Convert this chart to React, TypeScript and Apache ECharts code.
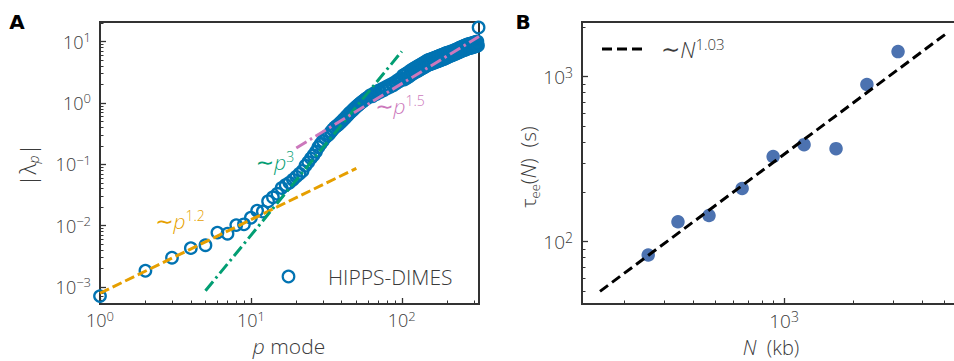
import React, { useEffect, useRef } from "react";
import * as echarts from "echarts";

// ---------- Panel A data ----------
const pModes = [
  1, 2, 3, 4, 5, 6, 7, 8, 9, 10, 11, 12, 13, 14, 15, 16, 17, 18, 19, 20,
  21, 22, 23, 24, 25, 26, 27, 28, 29, 30, 31, 32, 33, 34, 35, 36, 37, 38, 39, 40,
  41, 42, 43, 44, 45, 46, 47, 48, 49, 50, 51, 52, 53, 54, 55, 56, 57, 58, 59, 60,
  62, 64, 66, 68, 70, 72, 74, 76, 78, 80, 82, 84, 86, 88, 90, 92, 94, 96, 98, 100,
  102, 104, 106, 108, 110, 112, 114, 116, 118, 120, 122, 124, 126, 128, 130, 132, 134, 136, 138, 140,
  142, 144, 146, 148, 150, 152, 154, 156, 158, 160, 162, 164, 166, 168, 170, 172, 174, 176, 178, 180,
  182, 184, 186, 188, 190, 192, 194, 196, 198, 200,
  203, 206, 209, 212, 215, 218, 221, 224, 227, 230, 233, 236, 239, 242, 245, 248, 251, 254, 257, 260,
  263, 266, 269, 272, 275, 278, 281, 284, 287, 290, 293, 296, 299, 302, 305, 308, 311, 314, 317, 320,
  323,
];
const lambdaAbs = [
  7.1e-4, 1.84e-3, 3.0e-3, 4.3e-3, 4.8e-3, 7.7e-3, 7.4e-3, 1.02e-2, 1.05e-2, 1.35e-2,
  1.75e-2, 1.7e-2, 2.5e-2, 2.9e-2, 3.3e-2, 4.1e-2, 4.6e-2, 5.0e-2, 5.6e-2, 6.3e-2,
  7.0e-2, 7.8e-2, 9.5e-2, 0.108, 0.125, 0.14, 0.16, 0.19, 0.215, 0.24,
  0.27, 0.29, 0.31, 0.34, 0.37, 0.4, 0.42, 0.44, 0.47, 0.5,
  0.532, 0.565, 0.601, 0.639, 0.68, 0.714, 0.75, 0.788, 0.828, 0.87,
  0.905, 0.942, 0.98, 1.02, 1.06, 1.09, 1.13, 1.17, 1.2, 1.24,
  1.34, 1.29, 1.46, 1.4, 1.58, 1.51, 1.69, 1.61, 1.81, 1.73,
  1.93, 1.84, 2.05, 1.95, 2.18, 2.09, 2.34, 2.24, 2.51, 2.4,
  2.81, 2.41, 2.98, 2.56, 3.15, 2.71, 3.35, 2.88, 3.55, 3.05,
  3.73, 3.19, 3.9, 3.33, 4.07, 3.48, 4.26, 3.63, 4.44, 3.78,
  4.62, 3.94, 4.82, 4.1, 5.01, 4.23, 5.12, 4.33, 5.24, 4.43,
  5.36, 4.53, 5.48, 4.63, 5.61, 4.74, 5.74, 4.85, 5.88, 4.95,
  6.0, 5.06, 6.13, 5.17, 6.26, 5.28, 6.39, 5.39, 6.53, 5.51,
  6.63, 5.72, 6.81, 5.89, 7.01, 6.05, 7.2, 6.23, 7.41, 6.4,
  7.62, 6.59, 7.84, 6.77, 8.07, 6.96, 8.29, 7.15, 8.48, 7.3,
  8.67, 7.47, 8.87, 7.65, 9.07, 7.78, 9.2, 7.89, 9.33, 8.0,
  9.46, 8.11, 9.59, 8.23, 9.74, 8.37, 9.9, 8.51, 10.1, 8.65,
  17,
];
const fitP12 = [[1, 7.9e-4], [50, 0.086]];
const fitP3 = [[5, 8.67e-4], [100, 6.94]];
const fitP15 = [[20, 0.185], [325, 12.1]];
const aXTicks = [1, 10, 100];
const aXMinor = [2, 3, 4, 5, 6, 7, 8, 9, 20, 30, 40, 50, 60, 70, 80, 90, 200, 300];
const aYTicks = [1e-3, 1e-2, 1e-1, 1, 10];
const aYMinor = [
  6e-4, 7e-4, 8e-4, 9e-4,
  2e-3, 3e-3, 4e-3, 5e-3, 6e-3, 7e-3, 8e-3, 9e-3,
  2e-2, 3e-2, 4e-2, 5e-2, 6e-2, 7e-2, 8e-2, 9e-2,
  0.2, 0.3, 0.4, 0.5, 0.6, 0.7, 0.8, 0.9,
  2, 3, 4, 5, 6, 7, 8, 9, 20,
];

// ---------- Panel B data ----------
const genomeN = [255, 344, 470, 656, 896, 1223, 1687, 2301, 3148];
const tauEE = [83, 132, 144, 210, 328, 387, 366, 896, 1419];
const fitN103 = [[157, 50], [5050, 1800]];
const bXTicks = [1000];
const bXMinor = [200, 300, 400, 500, 600, 700, 800, 900, 2000, 3000, 4000, 5000];
const bYTicks = [100, 1000];
const bYMinor = [50, 60, 70, 80, 90, 200, 300, 400, 500, 600, 700, 800, 900, 2000];

const FONT = '"Open Sans", "DejaVu Sans", sans-serif';
const MATH = '"DejaVu Sans", sans-serif';
const TXT = "#3a3a3a";
const AX = "#333333";

function powLabel(v: number) {
  const e = Math.round(Math.log10(v));
  const s = e < 0 ? "\u2212" + -e : String(e);
  return `{b|10}{s|${s}}`;
}
function tickRich(size: number) {
  return {
    b: { fontSize: size, fontFamily: FONT, color: TXT, lineHeight: size + 4, fontWeight: 300 },
    s: {
      fontSize: Math.round(size * 0.72), fontFamily: FONT, color: TXT,
      lineHeight: Math.round(size * 0.55), verticalAlign: "top", fontWeight: 300,
    },
  };
}
function mainAxis(grid: number, min: number, max: number, ticks: number[], size: number, pos: string) {
  return {
    type: "log", logBase: 10, gridIndex: grid, min, max, position: pos,
    axisLine: { show: false },
    splitLine: { show: false },
    axisTick: { show: true, inside: true, length: 6, customValues: ticks, lineStyle: { color: AX, width: 1.3 } },
    axisLabel: {
      show: true, customValues: ticks, formatter: powLabel, rich: tickRich(size),
      margin: pos === "bottom" ? 5 : 9, fontFamily: FONT, color: TXT,
    },
  };
}
function minorAxis(grid: number, min: number, max: number, ticks: number[], pos: string) {
  return {
    type: "log", logBase: 10, gridIndex: grid, min, max, position: pos,
    axisLine: { show: false },
    splitLine: { show: false },
    axisLabel: { show: false },
    axisTick: { show: true, inside: true, length: 3.5, customValues: ticks, lineStyle: { color: AX, width: 1 } },
  };
}

// rich styles for graphic (zrender) texts use "fill"
const richFit = (color: string, size = 20) => ({
  t: { fontSize: size + 2, fontFamily: MATH, fill: color, lineHeight: 26 },
  i: { fontSize: size + 1, fontFamily: FONT, fill: color, fontStyle: "italic", fontWeight: 300, lineHeight: 26 },
  s: { fontSize: Math.round(size * 0.7), fontFamily: FONT, fill: color, fontWeight: 300, lineHeight: 13, verticalAlign: "top" },
});

export default function App() {
  const ref = useRef<HTMLDivElement>(null);
  useEffect(() => {
    document.body.style.margin = "0";
    const chart = echarts.init(ref.current!, null, { renderer: "svg" });
    const scatterA = pModes.map((p, i) => [p, lambdaAbs[i]]);
    const scatterB = genomeN.map((n, i) => [n, tauEE[i]]);
    chart.setOption({
      animation: false,
      backgroundColor: "#ffffff",
      grid: [
        { left: 100, top: 22, width: 379, height: 282, show: true, borderColor: AX, borderWidth: 2, backgroundColor: "transparent", outerBoundsMode: "none", containLabel: false },
        { left: 582, top: 22, width: 378, height: 282, show: true, borderColor: AX, borderWidth: 2, backgroundColor: "transparent", outerBoundsMode: "none", containLabel: false },
      ],
      xAxis: [
        mainAxis(0, 1, 325, aXTicks, 18, "bottom"),
        minorAxis(0, 1, 325, aXMinor, "bottom"),
        mainAxis(1, 131, 5870, bXTicks, 19, "bottom"),
        minorAxis(1, 131, 5870, bXMinor, "bottom"),
      ],
      yAxis: [
        mainAxis(0, 5.28e-4, 20.9, aYTicks, 18, "left"),
        minorAxis(0, 5.28e-4, 20.9, aYMinor, "left"),
        mainAxis(1, 41.9, 2143, bYTicks, 19, "left"),
        minorAxis(1, 41.9, 2143, bYMinor, "left"),
      ],
      series: [
        {
          type: "scatter", name: "HIPPS-DIMES", xAxisIndex: 0, yAxisIndex: 0, data: scatterA,
          symbol: "circle", symbolSize: 11.5, z: 2,
          itemStyle: { color: "rgba(0,0,0,0)", borderColor: "#0173B2", borderWidth: 2.3, opacity: 1 },
        },
        {
          type: "line", xAxisIndex: 0, yAxisIndex: 0, data: fitP12, showSymbol: false, symbol: "none", z: 5,
          lineStyle: { color: "#E69F00", width: 3, type: [10, 4], cap: "butt" },
        },
        {
          type: "line", xAxisIndex: 0, yAxisIndex: 0, data: fitP3, showSymbol: false, symbol: "none", z: 5,
          lineStyle: { color: "#029E73", width: 3, type: [12, 4, 2.5, 4], cap: "butt" },
        },
        {
          type: "line", xAxisIndex: 0, yAxisIndex: 0, data: fitP15, showSymbol: false, symbol: "none", z: 5,
          lineStyle: { color: "#CC78BC", width: 3, type: [12, 4, 2.5, 4], cap: "butt" },
        },
        {
          type: "scatter", xAxisIndex: 2, yAxisIndex: 2, data: scatterB,
          symbol: "circle", symbolSize: 13.5, z: 2, itemStyle: { color: "#4C72B0", opacity: 1 },
        },
        {
          type: "line", xAxisIndex: 2, yAxisIndex: 2, data: fitN103, showSymbol: false, symbol: "none", z: 5,
          lineStyle: { color: "#000000", width: 3, type: [10, 5], cap: "butt" },
        },
      ],
      graphic: [
        { type: "text", x: 17, y: 22, style: { text: "A", fontSize: 20, fontWeight: "bold", fontFamily: "'DejaVu Sans', sans-serif", fill: "#000", align: "center", verticalAlign: "middle" } },
        { type: "text", x: 523, y: 22, style: { text: "B", fontSize: 20, fontWeight: "bold", fontFamily: "'DejaVu Sans', sans-serif", fill: "#000", align: "center", verticalAlign: "middle" } },
        {
          type: "text", x: 289, y: 346,
          style: {
            text: "{i|p}{t| mode}", align: "center", verticalAlign: "middle",
            rich: {
              i: { fontSize: 21, fontFamily: FONT, fill: TXT, fontStyle: "italic", fontWeight: 300, lineHeight: 22 },
              t: { fontSize: 21, fontFamily: FONT, fill: TXT, fontWeight: 300, lineHeight: 22 },
            },
          },
        },
        {
          type: "text", x: 771, y: 347,
          style: {
            text: "{i|N}{t|  (kb)}", align: "center", verticalAlign: "middle",
            rich: {
              i: { fontSize: 20, fontFamily: FONT, fill: TXT, fontStyle: "italic", fontWeight: 300, lineHeight: 22 },
              t: { fontSize: 20, fontFamily: FONT, fill: TXT, fontWeight: 300, lineHeight: 22 },
            },
          },
        },
        {
          type: "text", x: 27, y: 165, rotation: Math.PI / 2,
          style: {
            text: "{t||λ}{sub|p}{t||}", align: "center", verticalAlign: "middle",
            rich: {
              t: { fontSize: 22, fontFamily: FONT, fill: TXT, fontWeight: 300, lineHeight: 26 },
              sub: { fontSize: 14, fontFamily: FONT, fill: TXT, fontStyle: "italic", fontWeight: 300, lineHeight: 14, verticalAlign: "bottom" },
            },
          },
        },
        {
          type: "text", x: 528, y: 167, rotation: Math.PI / 2,
          style: {
            text: "{t|τ}{sub|ee}{t|(}{i|N}{t|)  (s)}", align: "center", verticalAlign: "middle",
            rich: {
              t: { fontSize: 21, fontFamily: FONT, fill: TXT, fontWeight: 300, lineHeight: 26 },
              i: { fontSize: 21, fontFamily: FONT, fill: TXT, fontStyle: "italic", fontWeight: 300, lineHeight: 26 },
              sub: { fontSize: 13, fontFamily: FONT, fill: TXT, fontWeight: 300, lineHeight: 12, verticalAlign: "bottom" },
            },
          },
        },
        { type: "text", x: 180, y: 221, style: { text: "{t|∼}{i|p}{s|1.2}", align: "center", verticalAlign: "middle", rich: richFit("#E69F00") } },
        { type: "text", x: 275, y: 162, style: { text: "{t|∼}{i|p}{s|3}", align: "center", verticalAlign: "middle", rich: richFit("#029E73") } },
        { type: "text", x: 400, y: 106, style: { text: "{t|∼}{i|p}{s|1.5}", align: "center", verticalAlign: "middle", rich: richFit("#CC78BC") } },
        { type: "circle", shape: { cx: 288.5, cy: 276.5, r: 5.8 }, style: { fill: "none", stroke: "#0173B2", lineWidth: 2.2 } },
        { type: "text", x: 328, y: 277, style: { text: "HIPPS-DIMES", fontSize: 21, fontFamily: FONT, fontWeight: 300, fill: TXT, align: "left", verticalAlign: "middle" } },
        { type: "line", shape: { x1: 602, y1: 49, x2: 644, y2: 49 }, style: { stroke: "#000", lineWidth: 3, lineDash: [10, 5] } },
        { type: "text", x: 661, y: 49, style: { text: "{t|∼}{i|N}{s|1.03}", align: "left", verticalAlign: "middle", rich: richFit(TXT, 21) } },
      ],
    });
    return () => chart.dispose();
  }, []);
  return <div ref={ref} style={{ width: 954, height: 361 }} />;
}
